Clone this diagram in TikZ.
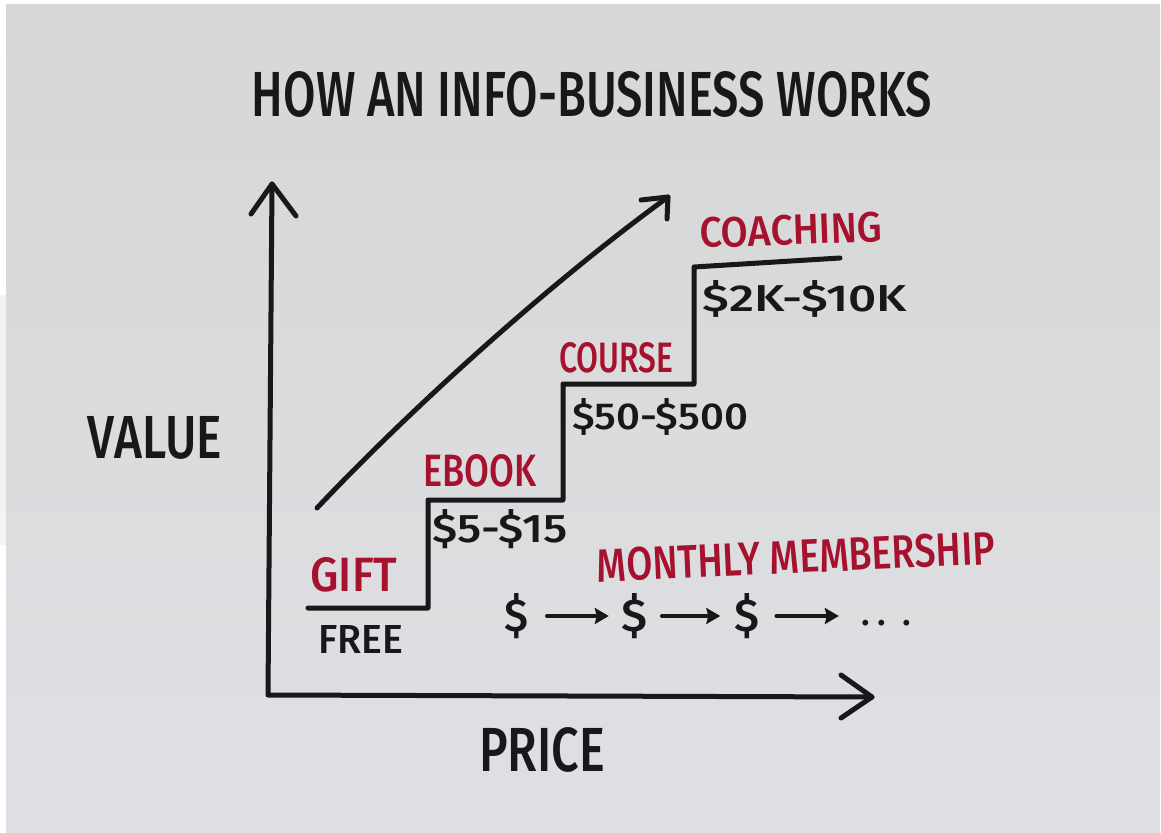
\documentclass[tikz,border=0pt]{standalone}
\usepackage{fontspec}
\setmainfont{Fira Sans}
\newfontfamily\handfont{Fira Sans Medium}
\usepackage{graphicx}
\usetikzlibrary{arrows.meta}

\definecolor{ink}{RGB}{24,24,26}
\definecolor{marker}{RGB}{166,18,46}
\definecolor{paperTop}{RGB}{214,215,214}
\definecolor{paperBottom}{RGB}{222,224,228}
\definecolor{edge}{RGB}{243,243,243}

% hand-lettered label squeezed into a given width and cap height
\newcommand{\hand}[3]{\resizebox{#1pt}{#2pt}{\handfont #3}}

\tikzset{
  pen/.style={draw=ink, line width=5pt, line cap=round, line join=round},
  blackword/.style={text=ink, inner sep=0pt, anchor=center},
  redword/.style={text=marker, inner sep=0pt, anchor=center},
  chevron/.style={pen},
  flow/.style={draw=ink, line width=4.5pt, line cap=round,
    -{Stealth[length=14pt,width=16pt,inset=2pt]}}
}

\begin{document}
\begin{tikzpicture}[x=1pt,y=-1pt]
\useasboundingbox (0,0) rectangle (1161,832);

% sheet of paper
\fill[white] (0,0) rectangle (1161,832);
\fill[edge] (0,295) rectangle (6,545);
\shade[top color=paperTop, bottom color=paperBottom] (6,5) rectangle (1160,832);

% title and axis names
\node[blackword] (title) at (592,94) {\hand{680}{45}{HOW AN INFO-BUSINESS WORKS}};
\node[blackword] (value) at (155,438) {\hand{134}{42}{VALUE}};
\node[blackword] (price) at (542,750) {\hand{126}{44}{PRICE}};

% axes
\coordinate (O) at (268,695);
\coordinate (ytip) at (272,184);
\coordinate (xtip) at (872,697);
\draw[pen] (ytip) -- (O) -- (xtip);
\draw[chevron] (251,214) -- (ytip) -- (296,216);
\draw[chevron] (841,675) -- (xtip) -- (841,718);

% rising value arrow
\coordinate (rs) at (317,508);
\coordinate (re) at (668,197);
\draw[pen] (rs) .. controls (400,420) and (540,290) .. (re);
\draw[chevron] (641,200) -- (re) -- (667,219);

% staircase of offers
\coordinate (s0) at (308,608);
\coordinate (s1) at (428,608);
\coordinate (s2) at (428,500);
\coordinate (s3) at (563,500);
\coordinate (s4) at (563,384);
\coordinate (s5) at (694,384);
\coordinate (s6) at (694,267);
\coordinate (s7) at (840,258);
\draw[pen] (s0) -- (s1) -- (s2) -- (s3) -- (s4) -- (s5) -- (s6) -- (s7);

% step labels
\node[redword] (gift) at (354,575) {\hand{87}{34}{GIFT}};
\node[blackword] (free) at (361,639) {\hand{85}{28}{FREE}};
\node[redword] (ebook) at (480,471) {\hand{113}{32}{EBOOK}};
\node[blackword] (ebookprice) at (500,529) {\hand{135}{33}{\$5-\$15}};
\node[redword] (course) at (616,358) {\hand{114}{30}{COURSE}};
\node[blackword] (courseprice) at (660,417) {\hand{176}{31}{\$50-\$500}};
\node[redword, rotate=2] (coaching) at (791,230) {\hand{183}{30}{COACHING}};
\node[blackword] (coachingprice) at (805,299) {\hand{204}{31}{\$2K-\$10K}};

% recurring membership payments
\node[redword, rotate=2.6] (monthly) at (796,557) {\hand{398}{33}{MONTHLY MEMBERSHIP}};
\node[blackword] (d1) at (516,616) {\hand{24}{38}{\$}};
\node[blackword] (d2) at (634,616) {\hand{26}{38}{\$}};
\node[blackword] (d3) at (747,616) {\hand{25}{38}{\$}};
\node[blackword, font=\fontsize{36}{36}\selectfont\handfont] (dots) at (886,623) {.\hspace{8pt}.\hspace{16pt}.};
\draw[flow, shorten <=19pt, shorten >=12pt] (d1.east) -- (d2.west);
\draw[flow, shorten <=15pt, shorten >=14pt] (d2.east) -- (d3.west);
\draw[flow, shorten <=17pt, shorten >=22pt] (d3.east) -- (d3.east -| dots.west);
\end{tikzpicture}
\end{document}
